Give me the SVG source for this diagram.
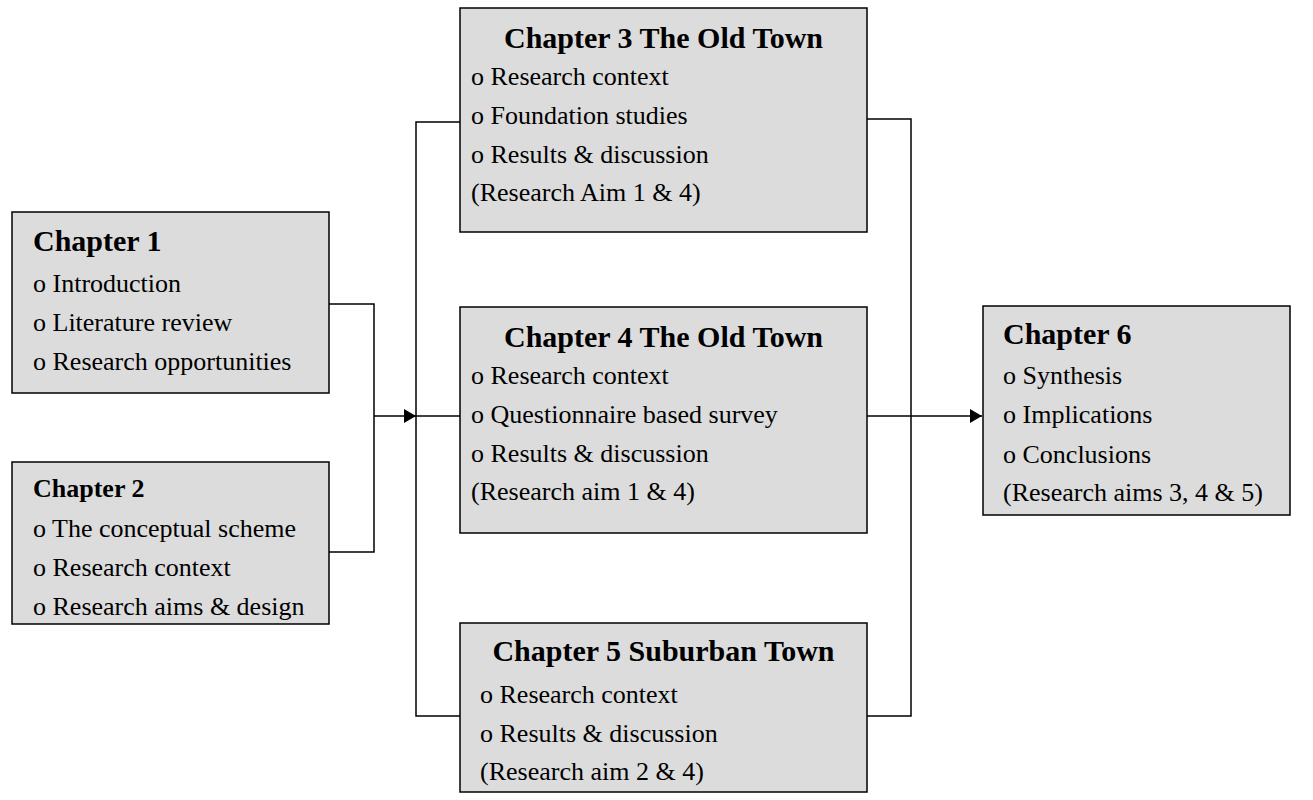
<svg xmlns="http://www.w3.org/2000/svg" width="1313" height="800" viewBox="0 0 1313 800">
  <style>
    .box { fill: #dcdcdc; stroke: #000; stroke-width: 1.5; }
    .title { font-family: "Liberation Serif", "Times New Roman", serif; font-weight: bold; font-size: 30px; fill: #000; }
    .title-sm { font-family: "Liberation Serif", "Times New Roman", serif; font-weight: bold; font-size: 26px; fill: #000; }
    .item { font-family: "Liberation Serif", "Times New Roman", serif; font-size: 26px; fill: #000; }
    .wire { fill: none; stroke: #000; stroke-width: 1.5; }
  </style>
  <defs>
    <marker id="arrow" viewBox="0 0 12 14" refX="12" refY="7" markerWidth="12" markerHeight="14" markerUnits="userSpaceOnUse" orient="auto">
      <path d="M0,0 L12,7 L0,14 Z" fill="#000"/>
    </marker>
  </defs>

  <rect width="1313" height="800" fill="#fff"/>

  <!-- connectors -->
  <g id="connectors">
    <!-- chapters 1 and 2 merge into the middle column -->
    <polyline class="wire" points="329,304 374,304 374,552 329,552"/>
    <line class="wire" x1="374" y1="416" x2="416" y2="416" marker-end="url(#arrow)"/>
    <!-- left bus to chapters 3, 4, 5 -->
    <polyline class="wire" points="460,122 416,122 416,716 460,716"/>
    <line class="wire" x1="416" y1="416" x2="460" y2="416"/>
    <!-- right bus from chapters 3, 4, 5 to chapter 6 -->
    <polyline class="wire" points="867,119 911,119 911,716 867,716"/>
    <line class="wire" x1="867" y1="416" x2="982" y2="416" marker-end="url(#arrow)"/>
  </g>

  <!-- Chapter 1 -->
  <g id="chapter1">
    <rect class="box" x="12" y="212" width="317" height="181"/>
    <text class="title" x="33" y="251">Chapter 1</text>
    <text class="item" x="33" y="292">o Introduction</text>
    <text class="item" x="33" y="331">o Literature review</text>
    <text class="item" x="33" y="370">o Research opportunities</text>
  </g>

  <!-- Chapter 2 -->
  <g id="chapter2">
    <rect class="box" x="12" y="462" width="317" height="162"/>
    <text class="title-sm" x="33" y="497">Chapter 2</text>
    <text class="item" x="33" y="537">o The conceptual scheme</text>
    <text class="item" x="33" y="576">o Research context</text>
    <text class="item" x="33" y="615">o Research aims &amp; design</text>
  </g>

  <!-- Chapter 3 -->
  <g id="chapter3">
    <rect class="box" x="460" y="8" width="407" height="224"/>
    <text class="title" x="663.5" y="48" text-anchor="middle">Chapter 3 The Old Town</text>
    <text class="item" x="471" y="85">o Research context</text>
    <text class="item" x="471" y="124">o Foundation studies</text>
    <text class="item" x="471" y="163">o Results &amp; discussion</text>
    <text class="item" x="471" y="201">(Research Aim 1 &amp; 4)</text>
  </g>

  <!-- Chapter 4 -->
  <g id="chapter4">
    <rect class="box" x="460" y="307" width="407" height="226"/>
    <text class="title" x="663.5" y="347" text-anchor="middle">Chapter 4 The Old Town</text>
    <text class="item" x="471" y="384">o Research context</text>
    <text class="item" x="471" y="423">o Questionnaire based survey</text>
    <text class="item" x="471" y="462">o Results &amp; discussion</text>
    <text class="item" x="471" y="500">(Research aim 1 &amp; 4)</text>
  </g>

  <!-- Chapter 5 -->
  <g id="chapter5">
    <rect class="box" x="460" y="623" width="407" height="169"/>
    <text class="title" x="663.5" y="661" text-anchor="middle">Chapter 5 Suburban Town</text>
    <text class="item" x="480" y="703">o Research context</text>
    <text class="item" x="480" y="742">o Results &amp; discussion</text>
    <text class="item" x="480" y="780">(Research aim 2 &amp; 4)</text>
  </g>

  <!-- Chapter 6 -->
  <g id="chapter6">
    <rect class="box" x="983" y="306" width="307" height="209"/>
    <text class="title" x="1003" y="344">Chapter 6</text>
    <text class="item" x="1003" y="384">o Synthesis</text>
    <text class="item" x="1003" y="423">o Implications</text>
    <text class="item" x="1003" y="463">o Conclusions</text>
    <text class="item" x="1003" y="501">(Research aims 3, 4 &amp; 5)</text>
  </g>
</svg>
